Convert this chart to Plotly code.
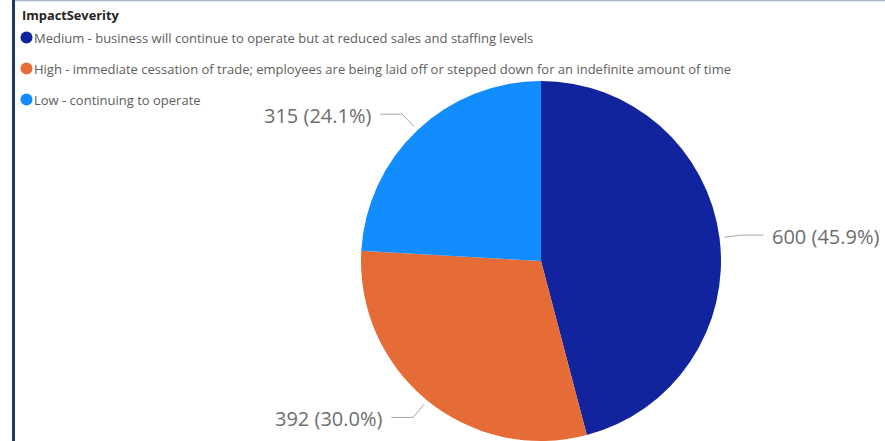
import math
import plotly.graph_objects as go

# ---- data ---------------------------------------------------------------
categories = [
    "Medium - business will continue to operate but at reduced sales and staffing levels",
    "High - immediate cessation of trade; employees are being laid off or stepped down for an indefinite amount of time",
    "Low - continuing to operate",
]
counts = [600, 392, 315]
colors = ["#12239E", "#E66C37", "#118DFF"]
legend_title = "ImpactSeverity"

# ---- canvas / geometry --------------------------------------------------
W, H = 885, 441
FONT = "Open Sans"
pie_x = [361 / W, 721 / W]
pie_y = [0.0, 360 / H]

cx = (pie_x[0] + pie_x[1]) / 2 * W
cy = H - (pie_y[0] + pie_y[1]) / 2 * H
R = min((pie_x[1] - pie_x[0]) * W, (pie_y[1] - pie_y[0]) * H) / 2

fig = go.Figure()

fig.add_trace(go.Pie(
    labels=categories,
    values=counts,
    marker=dict(colors=colors, line=dict(width=0)),
    sort=False,
    direction="clockwise",
    rotation=0,
    textinfo="none",
    hoverinfo="label+value+percent",
    showlegend=False,
    domain=dict(x=pie_x, y=pie_y),
))

# ---- data labels with leader lines --------------------------------------
total = sum(counts)
annotations = []
cum = 0.0
for val in counts:
    frac = val / total
    mid = cum + frac / 2
    cum += frac
    phi = 2 * math.pi * mid               # clockwise from 12 o'clock
    sx, sy = math.sin(phi), -math.cos(phi)
    p0 = (cx + (R + 5) * sx, cy + (R + 5) * sy)
    p1 = (cx + (R + 22) * sx, cy + (R + 22) * sy)
    side = 1 if sx >= 0 else -1
    p2 = (p1[0] + side * 22, p1[1])
    fig.add_trace(go.Scatter(
        x=[p0[0], p1[0], p2[0]], y=[p0[1], p1[1], p2[1]],
        mode="lines", line=dict(color="#A6A6A6", width=1),
        hoverinfo="skip", showlegend=False,
    ))
    annotations.append(dict(
        x=p2[0] + side * 7, y=p2[1] + 1.5, xref="x", yref="y",
        text=f"{val} ({frac * 100:.1f}%)",
        xanchor="left" if side > 0 else "right", yanchor="middle",
        showarrow=False,
        font=dict(family=FONT, size=20, color="#6E6E6E"),
    ))

# ---- legend -------------------------------------------------------------
annotations.append(dict(
    x=19.5, y=15, xref="x", yref="y", text=f"<b>{legend_title}</b>",
    xanchor="left", yanchor="middle", showarrow=False,
    font=dict(family=FONT, size=12.8, color="#252423"),
))
row_y = [37.5 + 31 * i for i in range(len(categories))]
fig.add_trace(go.Scatter(
    x=[26.5] * len(categories), y=row_y, mode="markers",
    marker=dict(size=12, color=colors, line=dict(width=0)),
    hoverinfo="skip", showlegend=False,
))
for name, yv in zip(categories, row_y):
    annotations.append(dict(
        x=31.5, y=yv, xref="x", yref="y", text=name,
        xanchor="left", yanchor="middle", showarrow=False,
        font=dict(family=FONT, size=13, color="#605E5C"),
    ))

# ---- frame lines --------------------------------------------------------
shapes = [
    dict(type="line", xref="x", yref="y", x0=14, x1=W, y0=0.5, y1=0.5,
         line=dict(color="#A9B4C8", width=1.5), layer="above"),
    dict(type="line", xref="x", yref="y", x0=13.5, x1=13.5, y0=0, y1=H,
         line=dict(color="#1B3A6B", width=3), layer="above"),
]

fig.update_layout(
    width=W, height=H,
    margin=dict(l=0, r=0, t=0, b=0),
    paper_bgcolor="white", plot_bgcolor="rgba(0,0,0,0)",
    xaxis=dict(range=[0, W], visible=False, fixedrange=True, domain=[0, 1]),
    yaxis=dict(range=[H, 0], visible=False, fixedrange=True, domain=[0, 1]),
    annotations=annotations,
    shapes=shapes,
    showlegend=False,
)

fig.write_html("out.html")
